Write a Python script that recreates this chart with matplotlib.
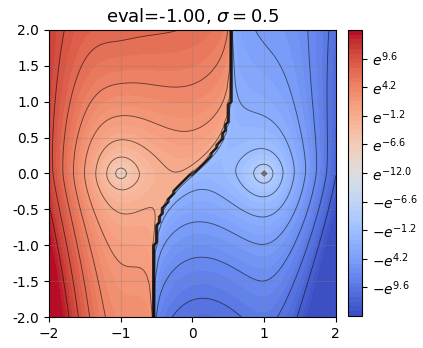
import numpy as np
import matplotlib
matplotlib.use("Agg")
from matplotlib import pyplot as plt

# parameters shown in the title
EVAL = -1.00
SIGMA = 0.5

# field shape
WELL_X = 1.0                      # wells at (-1, 0) and (1, 0)
ROOT_POWER = 1.4                  # |f| ~ r^1.4 next to a well
CONE = 4.6                        # growth of log|f| away from the wells
UP_GAIN, UP_SAT = 1.78, 0.33      # toward the open side of a well
DOWN_GAIN, DOWN_SAT = 2.86, 1.49  # toward the far side
TILT_TOP, TILT_BOTTOM = 0.75, 1.2  # lower half grows faster
OFFSET_LEFT, OFFSET_RIGHT = 8.2, 9.7
CORE_LEFT, CORE_RIGHT = 0.03, 0.0
BEND_AMP, BEND_RATE = 0.54, 2.0   # zero line: x = 0.54 * tanh(2 y)
LINTHRESH_LOG = -12.0             # symlog threshold e^-12
VMAX = 27.0
GRID_N = 101


def spread(v):
    up = UP_GAIN * v / (1 + UP_SAT * np.abs(v))
    down = DOWN_GAIN * v / (1 + DOWN_SAT * np.abs(v))
    return np.where(v > 0, up, down)


xs = np.linspace(-2, 2, GRID_N)
ys = np.linspace(-2, 2, GRID_N)
X, Y = np.meshgrid(xs, ys)

g = BEND_AMP * np.tanh(BEND_RATE * Y) - X
left = g > 0
# red side in its own frame, blue side in the point-mirrored frame
u = np.where(left, -X, X)
v = np.where(left, Y, -Y)
P = u**2 - WELL_X**2
r2 = (u - WELL_X) ** 2 + v**2 + np.where(left, CORE_LEFT, CORE_RIGHT) ** 2
soft_abs_p = np.sqrt(P**2 + 0.25) - 0.5
tilt = np.where(Y > 0, TILT_TOP, TILT_BOTTOM)
logmag = (np.where(left, OFFSET_LEFT, OFFSET_RIGHT)
          + 0.5 * ROOT_POWER * np.log(r2 + 1e-300)
          + CONE * np.sqrt(P**2 + spread(v) ** 2)
          - tilt * soft_abs_p * Y
          + np.log(np.abs(g) + 1e-12))
T = np.where(left, 1, -1) * np.logaddexp(0, logmag)
T = np.clip(T, -VMAX + 1e-6, VMAX - 1e-6)

fig = plt.figure(figsize=(4.23, 3.48), dpi=100)
ax = fig.add_axes([0.116, 0.089, 0.678, 0.825])
cax = fig.add_axes([0.823, 0.092, 0.033, 0.822])

cf = ax.contourf(X, Y, T, levels=np.linspace(-VMAX, VMAX, 61), cmap="coolwarm")
ax.contour(X, Y, T, levels=np.linspace(-VMAX, VMAX, 21), colors="k",
           linewidths=0.65, alpha=0.55, linestyles="solid")
ax.grid(True, color="gray", alpha=0.3, linewidth=0.8)
ax.set_xticks([-2, -1, 0, 1, 2])
yt = np.arange(-2, 2.01, 0.5)
ax.set_yticks(yt)
ax.set_yticklabels([f"{val:.1f}" for val in yt])
ax.tick_params(labelsize=10)
ax.set_title(f"eval={EVAL:.2f}, $\\sigma = {SIGMA}$", fontsize=13)

cb = fig.colorbar(cf, cax=cax)
ticks = np.linspace(-VMAX, VMAX, 11)[1:-1]
labels = []
for t in ticks:
    m = abs(t) + LINTHRESH_LOG
    if abs(t) < 1e-9:
        labels.append(f"$e^{{{LINTHRESH_LOG:.1f}}}$")
    elif t > 0:
        labels.append(f"$e^{{{m:.1f}}}$")
    else:
        labels.append(f"$-e^{{{m:.1f}}}$")
cb.set_ticks(ticks)
cb.set_ticklabels(labels)
cb.ax.tick_params(labelsize=10)

fig.savefig("out.png", dpi=100)
